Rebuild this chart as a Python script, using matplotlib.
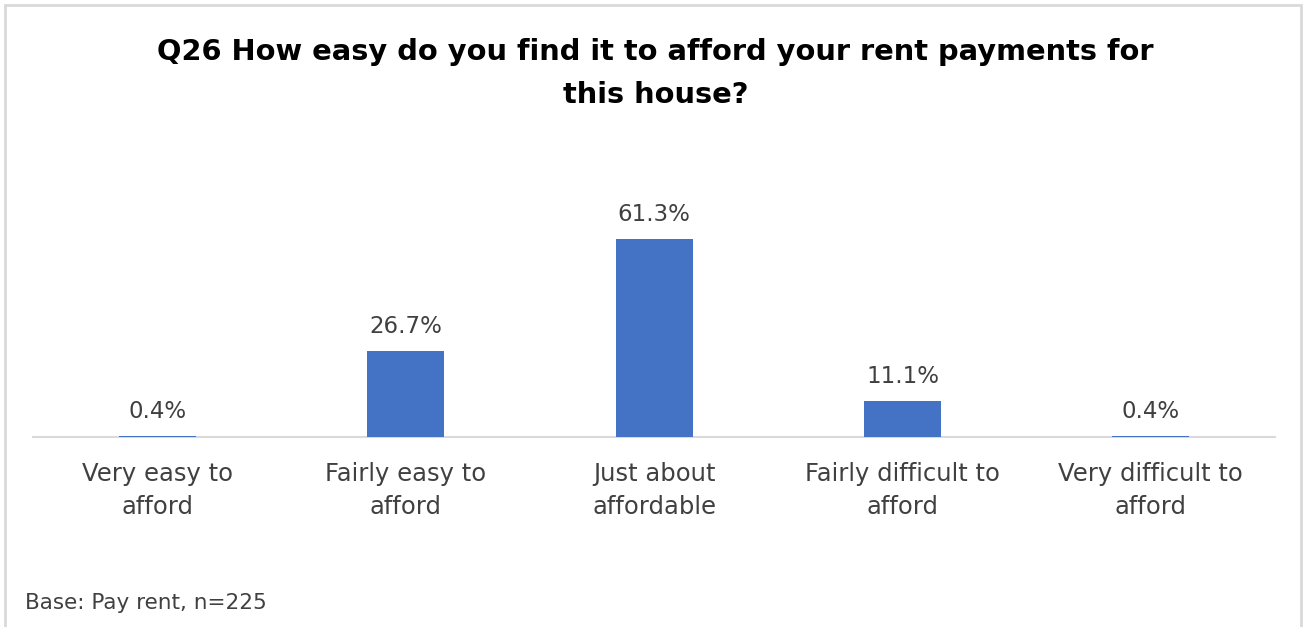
import matplotlib.pyplot as plt
from matplotlib.patches import Rectangle

# survey answers and shares (%)
categories = ["Very easy to\nafford", "Fairly easy to\nafford", "Just about\naffordable",
              "Fairly difficult to\nafford", "Very difficult to\nafford"]
shares = [0.4, 26.7, 61.3, 11.1, 0.4]

title = "Q26 How easy do you find it to afford your rent payments for\nthis house?"
base_note = "Base: Pay rent, n=225"

bar_colour = "#4472C4"
text_colour = "#404040"

fig = plt.figure(figsize=(13.06, 6.27), dpi=100)
ax = fig.add_axes([0.0253, 0.303, 0.951, 0.412])

x = range(len(categories))
bars = ax.bar(x, shares, width=0.31, color=bar_colour, zorder=3)

for b, v in zip(bars, shares):
    ax.text(b.get_x() + b.get_width() / 2, v + 4.0, "%.1f%%" % v,
            ha="center", va="bottom", fontsize=16.5, color=text_colour)

ax.set_xlim(-0.5, len(categories) - 0.5)
ax.set_ylim(0, 80)
ax.set_yticks([])
ax.set_xticks(list(x))
ax.set_xticklabels(categories, fontsize=17.5, color=text_colour, linespacing=1.45)
ax.tick_params(axis="x", length=0, pad=18)
for side in ["top", "right", "left"]:
    ax.spines[side].set_visible(False)
ax.spines["bottom"].set_color("#D9D9D9")
ax.spines["bottom"].set_linewidth(1.5)
ax.spines["bottom"].set_zorder(1)

fig.text(0.502, 0.94, title, ha="center", va="top", fontsize=20.8,
         fontweight="bold", color="black", linespacing=1.72)
fig.text(0.019, 0.038, base_note, ha="left", va="center", fontsize=15.5,
         color=text_colour)

# light grey frame round the chart
fig.patches.append(Rectangle((5 / 1306, -0.05), 1296 / 1306, 1.05 - 5 / 627,
                             transform=fig.transFigure, fill=False,
                             edgecolor="#D9D9D9", linewidth=2))

fig.savefig("out.png", dpi=100)
